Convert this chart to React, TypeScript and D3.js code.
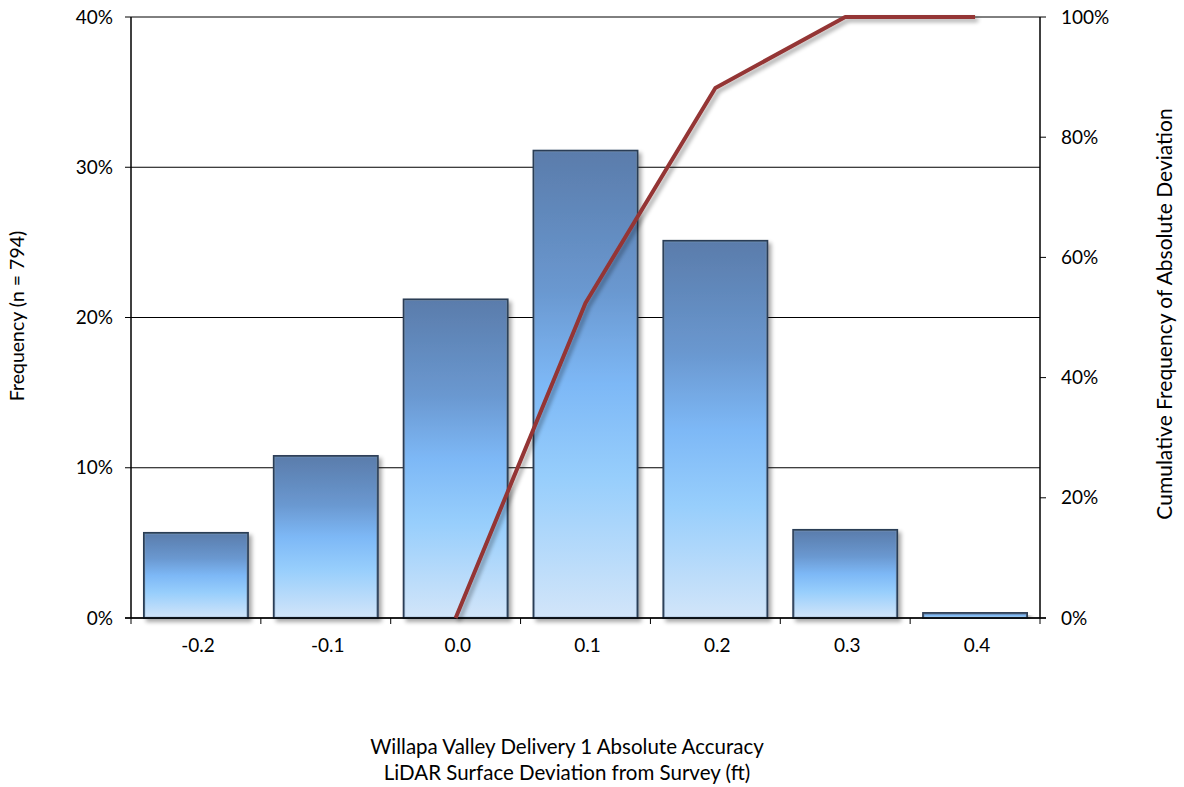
import React from "react";
import * as d3 from "d3";

const categories = ["-0.2", "-0.1", "0.0", "0.1", "0.2", "0.3", "0.4"];
const frequency = [5.66, 10.78, 21.2, 31.1, 25.1, 5.86, 0.33];
const cumCategories = ["0.0", "0.1", "0.2", "0.3", "0.4"];
const cumulative = [0, 52.4, 88.2, 100, 100];
const leftTicks = [0, 10, 20, 30, 40];
const rightTicks = [0, 20, 40, 60, 80, 100];

const W = 1184, H = 787;
const M = { left: 131, right: 1040, top: 17, bottom: 618 };
const FONT = "Lato, 'Open Sans', sans-serif";

export default function App() {
  const x = d3.scaleBand<string>().domain(categories).range([M.left, M.right]).paddingInner(0.2).paddingOuter(0.1);
  const xb = d3.scaleBand<string>().domain(categories).range([M.left, M.right]);
  const y = d3.scaleLinear().domain([0, 40]).range([M.bottom, M.top]);
  const y2 = d3.scaleLinear().domain([0, 100]).range([M.bottom, M.top]);
  const line = d3.line<number>()
    .x((_, i) => (xb(cumCategories[i]) as number) + xb.bandwidth() / 2)
    .y((d) => y2(d));
  const path = line(cumulative) || "";

  return (
    <svg width={W} height={H} style={{ position: "absolute", left: 0, top: 0, background: "#fff" }} fontFamily={FONT}>
      <defs>
        <linearGradient id="barGrad" x1="0" y1="0" x2="0" y2="1">
          <stop offset="0" stopColor="#5a7cab" />
          <stop offset="0.3" stopColor="#6a98d0" />
          <stop offset="0.5" stopColor="#7db8f6" />
          <stop offset="0.7" stopColor="#97cefc" />
          <stop offset="1" stopColor="#d2e5f9" />
        </linearGradient>
        <filter id="shadow" x="-10%" y="-10%" width="130%" height="130%">
          <feGaussianBlur in="SourceAlpha" stdDeviation="2" />
          <feOffset dx="3" dy="3" result="ob" />
          <feComponentTransfer><feFuncA type="linear" slope="0.35" /></feComponentTransfer>
          <feMerge><feMergeNode /><feMergeNode in="SourceGraphic" /></feMerge>
        </filter>
      </defs>

      {leftTicks.map((t) => (
        <line key={"g" + t} x1={M.left - 6} x2={M.right} y1={y(t)} y2={y(t)} stroke="#000" strokeWidth={1} />
      ))}

      {categories.map((c, i) => {
        const bx = x(c) as number;
        const by = y(frequency[i]);
        return (
          <g key={c}>
            <rect x={bx} y={by} width={x.bandwidth()} height={M.bottom - by} fill="url(#barGrad)" stroke="#2a3d55" strokeWidth={2} filter="url(#shadow)" />
            <rect x={bx + 1} y={by + 1} width={x.bandwidth() - 2} height={Math.max(0, M.bottom - by - 2)} fill="none" stroke="#8aa5c4" strokeWidth={1} strokeOpacity={0.5} />
          </g>
        );
      })}

      <line x1={M.left} x2={M.left} y1={M.top} y2={M.bottom} stroke="#000" strokeWidth={1.5} />
      <line x1={M.right} x2={M.right} y1={M.top} y2={M.bottom} stroke="#000" strokeWidth={1.5} />
      <line x1={M.left - 6} x2={M.right + 6} y1={M.bottom} y2={M.bottom} stroke="#000" strokeWidth={1.5} />
      {categories.map((c) => (
        <line key={"bt" + c} x1={xb(c) as number} x2={xb(c) as number} y1={M.bottom} y2={M.bottom + 6} stroke="#000" />
      ))}
      <line x1={M.right} x2={M.right} y1={M.bottom} y2={M.bottom + 6} stroke="#000" />
      {rightTicks.map((t) => (
        <line key={"rt" + t} x1={M.right} x2={M.right + 6} y1={y2(t)} y2={y2(t)} stroke="#000" />
      ))}

      <path d={path} fill="none" stroke="#943634" strokeWidth={4} strokeLinejoin="round" filter="url(#shadow)" />

      {leftTicks.map((t) => (
        <text key={"lt" + t} x={M.left - 18} y={y(t)} dy="0.35em" textAnchor="end" fontSize={19} fill="#000">{t}%</text>
      ))}
      {rightTicks.map((t) => (
        <text key={"rl" + t} x={M.right + 21} y={y2(t)} dy="0.35em" textAnchor="start" fontSize={19} fill="#000">{t}%</text>
      ))}
      {categories.map((c) => (
        <text key={"cl" + c} x={(xb(c) as number) + xb.bandwidth() / 2 + 2} y={M.bottom + 27} dy="0.35em" textAnchor="middle" fontSize={19} fill="#000">{c}</text>
      ))}

      <text transform={`translate(24,316) rotate(-90)`} textAnchor="middle" fontSize={19.5} fill="#000">Frequency (n = 794)</text>
      <text transform={`translate(1172,314) rotate(-90)`} textAnchor="middle" fontSize={21} fill="#000">Cumulative Frequency of Absolute Deviation</text>
      <text x={567} y={747} dy="0.35em" textAnchor="middle" fontSize={20.5} fill="#000">Willapa Valley Delivery 1 Absolute Accuracy</text>
      <text x={567} y={773} dy="0.35em" textAnchor="middle" fontSize={20.5} fill="#000">LiDAR Surface Deviation from Survey (ft)</text>
    </svg>
  );
}
